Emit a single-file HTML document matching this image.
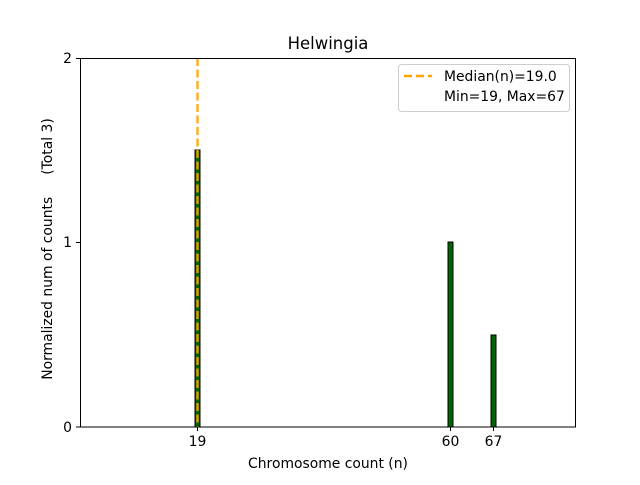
<!DOCTYPE html>
<html><head><style>body{margin:0;background:#fff}</style></head><body>
<svg width="640" height="480" xmlns="http://www.w3.org/2000/svg" font-family="DejaVu Sans, Liberation Sans, sans-serif">
<rect width="640" height="480" fill="#fff"/>
<rect x="195" y="150" width="5" height="277" fill="#006400" stroke="#000" stroke-width="1"/>
<rect x="448" y="242" width="5" height="185" fill="#006400" stroke="#000" stroke-width="1"/>
<rect x="491" y="335" width="5" height="92" fill="#006400" stroke="#000" stroke-width="1"/>
<line x1="197.5" y1="58" x2="197.5" y2="427" stroke="#FFA500" stroke-width="2.4" stroke-dasharray="8,3.5" opacity="0.9"/>
<rect x="80.5" y="58.5" width="495" height="368.5" fill="none" stroke="#000" stroke-width="1"/>
<g stroke="#000" stroke-width="1">
<line x1="76" y1="427" x2="80" y2="427"/><line x1="76" y1="242.5" x2="80" y2="242.5"/><line x1="76" y1="58.5" x2="80" y2="58.5"/>
<line x1="197.5" y1="427" x2="197.5" y2="431"/><line x1="450.5" y1="427" x2="450.5" y2="431"/><line x1="493.5" y1="427" x2="493.5" y2="431"/>
</g>
<g font-size="13.9" fill="#000">
<text x="72" y="432" text-anchor="end">0</text>
<text x="72" y="247" text-anchor="end">1</text>
<text x="72" y="63" text-anchor="end">2</text>
<text x="197.5" y="446" text-anchor="middle">19</text>
<text x="450.5" y="446" text-anchor="middle">60</text>
<text x="493.5" y="446" text-anchor="middle">67</text>
<text x="328" y="468" text-anchor="middle">Chromosome count (n)</text>
<text transform="translate(52,249) rotate(-90)" text-anchor="middle" xml:space="preserve">Normalized num of counts     (Total 3)</text>
</g>
<text x="328" y="49" font-size="16.5" text-anchor="middle">Helwingia</text>
<rect x="398.5" y="64.5" width="171" height="47" rx="3" fill="#fff" stroke="#ccc"/>
<line x1="404" y1="76" x2="432" y2="76" stroke="#FFA500" stroke-width="2.4" stroke-dasharray="8,4"/>
<text x="444" y="81" font-size="13.9">Median(n)=19.0</text>
<text x="444" y="101" font-size="13.9">Min=19, Max=67</text>
</svg>
</body></html>
